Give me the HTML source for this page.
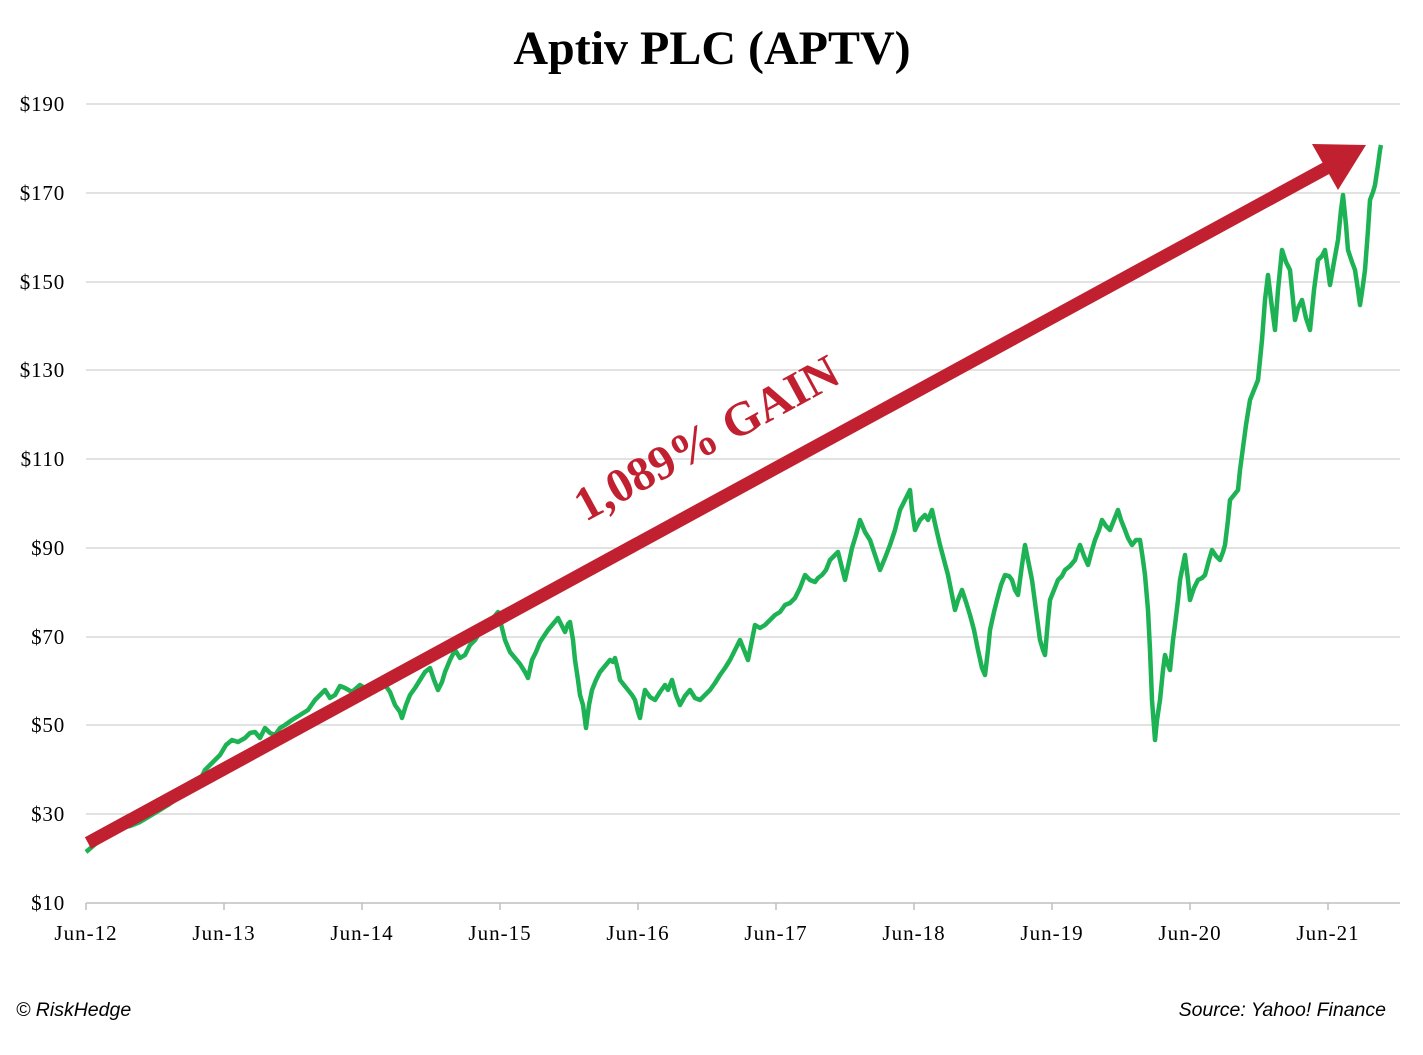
<!DOCTYPE html>
<html><head><meta charset="utf-8"><style>
body{margin:0;background:#fff;}
</style></head><body>
<svg width="1423" height="1050" xmlns="http://www.w3.org/2000/svg">
<rect width="1423" height="1050" fill="#fff"/>
<text x="712" y="64" text-anchor="middle" font-family="Liberation Serif, serif" font-weight="bold" font-size="48" fill="#000">Aptiv PLC (APTV)</text>
<g stroke="#d9d9d9" stroke-width="1.5">
<line x1="86" y1="104" x2="1400" y2="104"/>
<line x1="86" y1="193" x2="1400" y2="193"/>
<line x1="86" y1="282" x2="1400" y2="282"/>
<line x1="86" y1="370" x2="1400" y2="370"/>
<line x1="86" y1="459" x2="1400" y2="459"/>
<line x1="86" y1="548" x2="1400" y2="548"/>
<line x1="86" y1="637" x2="1400" y2="637"/>
<line x1="86" y1="725" x2="1400" y2="725"/>
<line x1="86" y1="814" x2="1400" y2="814"/>
</g>
<line x1="86" y1="903" x2="1400" y2="903" stroke="#bfbfbf" stroke-width="1.5"/>
<g stroke="#bfbfbf" stroke-width="1.5">
<line x1="86" y1="903" x2="86" y2="910"/><line x1="224" y1="903" x2="224" y2="910"/><line x1="362" y1="903" x2="362" y2="910"/><line x1="500" y1="903" x2="500" y2="910"/><line x1="638" y1="903" x2="638" y2="910"/><line x1="776" y1="903" x2="776" y2="910"/><line x1="914" y1="903" x2="914" y2="910"/><line x1="1052" y1="903" x2="1052" y2="910"/><line x1="1190" y1="903" x2="1190" y2="910"/><line x1="1328" y1="903" x2="1328" y2="910"/>
</g>
<g font-family="Liberation Serif, serif" font-size="21" letter-spacing="0.8" fill="#000" text-anchor="end">
<text x="65" y="111">$190</text><text x="65" y="200">$170</text><text x="65" y="289">$150</text><text x="65" y="377">$130</text><text x="65" y="466">$110</text><text x="65" y="555">$90</text><text x="65" y="644">$70</text><text x="65" y="732">$50</text><text x="65" y="821">$30</text><text x="65" y="910">$10</text>
</g>
<g font-family="Liberation Serif, serif" font-size="21" letter-spacing="1" fill="#000" text-anchor="middle">
<text x="86" y="940">Jun-12</text><text x="224" y="940">Jun-13</text><text x="362" y="940">Jun-14</text><text x="500" y="940">Jun-15</text><text x="638" y="940">Jun-16</text><text x="776" y="940">Jun-17</text><text x="914" y="940">Jun-18</text><text x="1052" y="940">Jun-19</text><text x="1190" y="940">Jun-20</text><text x="1328" y="940">Jun-21</text>
</g>
<polyline fill="none" stroke="#1db254" stroke-width="4.5" stroke-linejoin="round" points="86,852 100,840 110,835 120,828 130,826 140,822 150,816 160,810 168,805 175,800 183,790 190,785 200,780 205,770 210,765 215,760 220,755 226,745 232,740 238,742 245,738 250,733 255,732 260,738 265,728 270,733 275,735 280,728 285,725 292,720 300,715 308,710 315,700 320,695 325,690 330,698 335,695 340,686 345,688 352,692 360,685 368,690 375,690 380,682 385,685 390,692 395,705 400,712 402,718 406,705 410,695 415,688 420,680 425,672 430,668 434,680 438,690 442,682 445,672 450,660 455,650 460,658 465,655 470,645 475,640 480,632 485,625 490,622 498,612 502,628 505,640 510,652 515,658 520,664 525,672 528,678 532,660 536,652 540,642 544,636 548,630 553,624 558,618 562,626 565,632 568,624 570,622 573,640 575,660 578,680 580,695 583,705 586,728 589,705 592,690 596,680 600,672 605,666 610,660 613,662 615,658 618,670 620,680 624,685 628,690 632,695 635,700 638,712 640,718 643,700 645,690 650,697 655,700 660,692 665,685 668,690 672,680 676,695 680,705 685,696 690,690 695,698 700,700 705,695 710,690 715,683 720,675 725,668 730,660 735,650 740,640 744,650 748,660 752,640 755,625 760,628 765,625 770,620 775,615 780,612 785,605 790,603 795,598 800,588 805,575 810,580 815,582 818,578 822,575 826,570 830,560 834,556 838,552 842,568 845,580 849,562 852,548 856,535 860,520 865,532 870,540 875,555 880,570 885,558 890,545 895,530 900,510 905,500 910,490 912,510 915,530 920,520 925,515 928,520 932,510 936,528 940,545 944,560 948,575 952,595 955,610 958,600 962,590 966,602 970,615 974,630 978,650 982,668 985,675 988,650 990,630 994,612 997,600 1001,585 1005,575 1009,576 1012,580 1015,590 1018,595 1022,565 1025,545 1028,560 1032,580 1036,610 1040,640 1043,650 1045,655 1048,620 1050,600 1054,590 1058,580 1062,576 1065,570 1070,566 1075,560 1078,550 1080,545 1084,556 1088,565 1092,550 1095,540 1099,530 1102,520 1106,526 1110,530 1114,520 1118,510 1121,520 1125,530 1128,538 1132,545 1136,540 1140,540 1143,560 1145,575 1148,610 1150,650 1152,700 1155,740 1157,720 1160,700 1163,670 1165,655 1168,665 1170,670 1173,640 1175,625 1178,600 1180,580 1183,565 1185,555 1188,580 1190,600 1194,588 1198,580 1202,578 1205,575 1209,560 1212,550 1216,556 1220,560 1223,552 1225,545 1228,520 1230,500 1234,495 1238,490 1240,470 1242,455 1246,425 1250,400 1254,390 1258,380 1260,360 1262,340 1265,300 1268,275 1271,300 1275,330 1278,290 1282,250 1286,262 1290,270 1293,300 1295,320 1298,308 1302,300 1306,318 1310,330 1314,290 1318,260 1322,256 1325,250 1328,270 1330,285 1334,262 1338,240 1341,210 1343,195 1346,225 1348,250 1352,262 1355,270 1358,290 1360,305 1363,285 1365,270 1368,230 1370,200 1373,192 1375,185 1378,165 1380,150 1381,145"/>
<line x1="88" y1="843" x2="1332" y2="165" stroke="#c0202f" stroke-width="13"/>
<polygon points="1312,144 1366,145 1338,190" fill="#c0202f"/>
<text x="0" y="0" transform="translate(714,452) rotate(-28.6)" text-anchor="middle" font-family="Liberation Serif, serif" font-weight="bold" font-size="48" fill="#c0202f">1,089% GAIN</text>
<text x="16" y="1016" font-family="Liberation Sans, sans-serif" font-style="italic" font-size="19.5" fill="#000">© RiskHedge</text>
<text x="1386" y="1016" text-anchor="end" font-family="Liberation Sans, sans-serif" font-style="italic" font-size="19.5" fill="#000">Source: Yahoo! Finance</text>
</svg>
</body></html>
